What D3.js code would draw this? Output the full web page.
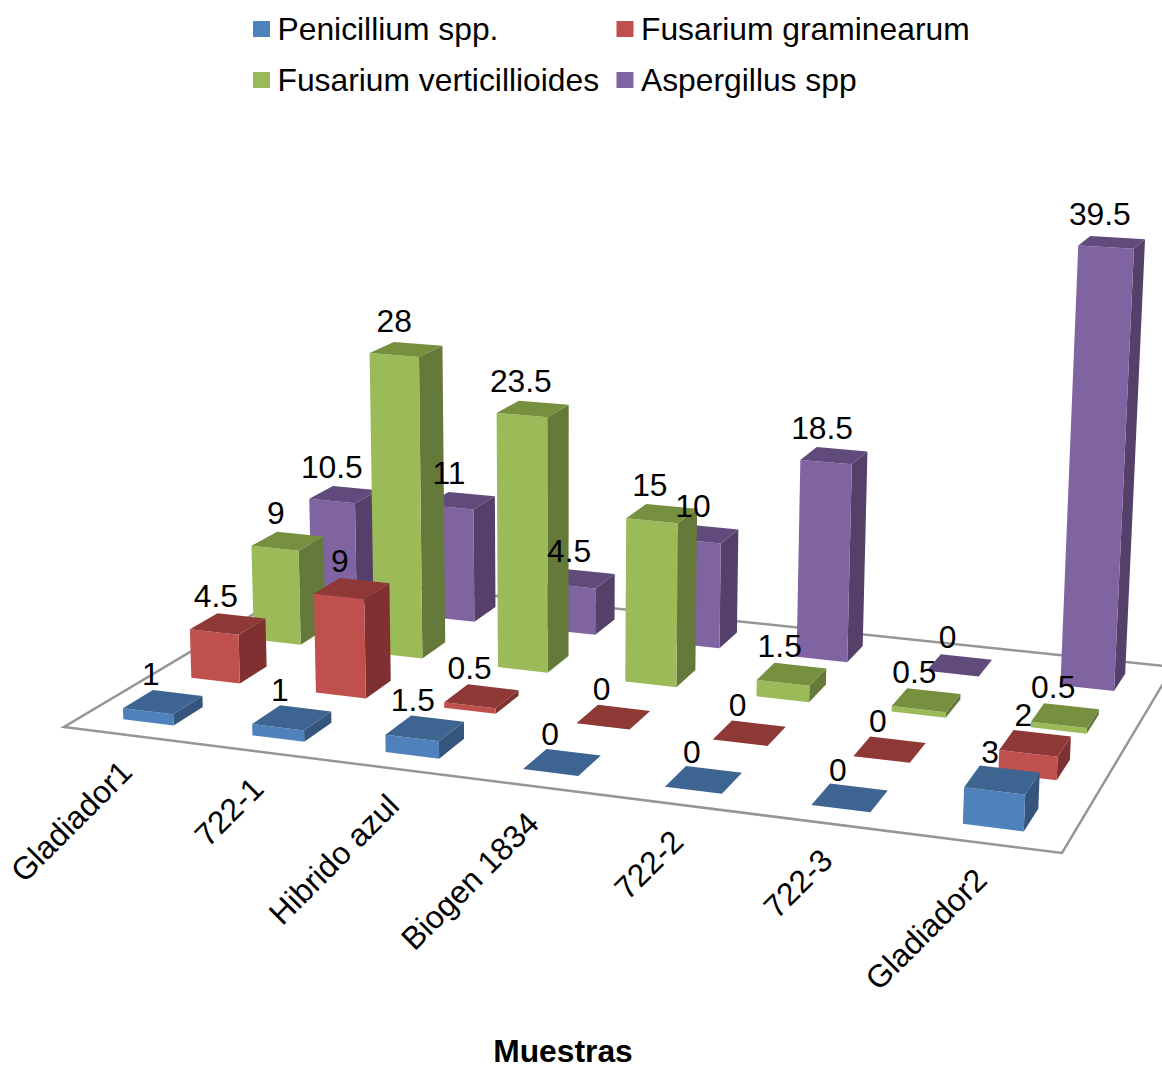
<!DOCTYPE html>
<html>
<head>
<meta charset="utf-8">
<script src="https://d3js.org/d3.v7.min.js"></script>
<style>
  body { margin: 0; background: #fff; }
  text { font-family: "Liberation Sans", Arial, sans-serif; fill: #000; }
</style>
</head>
<body>
<div id="chart"></div>
<script>
var categories = ["Gladiador1", "722-1", "Hibrido azul", "Biogen 1834", "722-2", "722-3", "Gladiador2"];
var seriesNames = ["Penicillium spp.", "Fusarium graminearum", "Fusarium verticillioides", "Aspergillus spp"];
var penicillium = [1, 1, 1.5, 0, 0, 0, 3];
var graminearum = [4.5, 9, 0.5, 0, 0, 0, 2];
var verticillioides = [9, 28, 23.5, 15, 1.5, 0.5, 0.5];
var aspergillus = [10.5, 11, 4.5, 10, 18.5, 0, 39.5];
var seriesValues = [penicillium, graminearum, verticillioides, aspergillus];

var frontColors = ["#4F81BD", "#C0504D", "#9BBB59", "#8064A2"];
var topColors = ["#3E6491", "#8E3936", "#76903F", "#614B7C"];
var sideColors = ["#35557C", "#7E3130", "#64793A", "#544068"];

var width = 1162;
var height = 1066;

var svg = d3.select("#chart")
  .append("svg")
  .attr("width", width)
  .attr("height", height)
  .style("display", "block");

// floor corners on screen, from the picture
var FL = [64, 727], FR = [1062, 853], BR = [1173, 667], BL = [316, 577];
// where the verticals meet (they widen going up)
var vanish = [561, 13000];

// square -> quad homography
var dx1 = FR[0] - BR[0], dx2 = BL[0] - BR[0], sx = FL[0] - FR[0] + BR[0] - BL[0];
var dy1 = FR[1] - BR[1], dy2 = BL[1] - BR[1], sy = FL[1] - FR[1] + BR[1] - BL[1];
var den = dx1 * dy2 - dx2 * dy1;
var g = (sx * dy2 - dx2 * sy) / den;
var h = (dx1 * sy - sx * dy1) / den;
var a = FR[0] - FL[0] + g * FR[0], b = BL[0] - FL[0] + h * BL[0];
var d = FR[1] - FL[1] + g * FR[1], e = BL[1] - FL[1] + h * BL[1];

function project(u, v, w) {
  var q = g * u + h * v + 1 + w;
  return [
    (a * u + b * v + FL[0] + w * vanish[0]) / q,
    (d * u + e * v + FL[1] + w * vanish[1]) / q
  ];
}

var uScale = d3.scaleBand().domain(categories).range([0, 1]).paddingInner(0.607).paddingOuter(0.3035);
var vScale = d3.scaleBand().domain(seriesNames).range([0, 1]).paddingInner(0.57).paddingOuter(0.285);
var wScale = d3.scaleLinear().domain([0, 39.5]).range([0, -0.0362]);

var line = d3.line();
function face(pts) { return line(pts) + "Z"; }

// floor
svg.append("path")
  .attr("d", face([FL, FR, BR, BL]))
  .attr("fill", "none")
  .attr("stroke", "#969696")
  .attr("stroke-width", 2.5);

// back row first, left to right inside a row
var bars = svg.append("g");
d3.range(seriesNames.length - 1, -1, -1).forEach(function(s) {
  categories.forEach(function(cat, i) {
    var value = seriesValues[s][i];
    var u0 = uScale(cat), u1 = u0 + uScale.bandwidth();
    var v0 = vScale(seriesNames[s]), v1 = v0 + vScale.bandwidth();
    var w = wScale(value);
    var group = bars.append("g");
    group.append("path")
      .attr("d", face([project(u1, v0, 0), project(u1, v1, 0), project(u1, v1, w), project(u1, v0, w)]))
      .attr("fill", sideColors[s]);
    group.append("path")
      .attr("d", face([project(u0, v0, 0), project(u1, v0, 0), project(u1, v0, w), project(u0, v0, w)]))
      .attr("fill", frontColors[s]);
    group.append("path")
      .attr("d", face([project(u0, v0, w), project(u1, v0, w), project(u1, v1, w), project(u0, v1, w)]))
      .attr("fill", topColors[s]);
  });
});

// value labels go over all the bars
d3.range(seriesNames.length - 1, -1, -1).forEach(function(s) {
  categories.forEach(function(cat, i) {
    var value = seriesValues[s][i];
    var c = project(uScale(cat) + uScale.bandwidth() / 2, vScale(seriesNames[s]) + vScale.bandwidth() / 2, wScale(value));
    svg.append("text")
      .attr("x", c[0] - 12)
      .attr("y", c[1] - 17)
      .attr("text-anchor", "middle")
      .style("font-size", "31.8px")
      .text(value);
  });
});

// category labels
categories.forEach(function(cat) {
  var c = project(uScale(cat) + uScale.bandwidth() / 2, 0, 0);
  svg.append("text")
    .attr("transform", "translate(" + (c[0] + 6) + "," + (c[1] + 39) + ") rotate(-45)")
    .attr("text-anchor", "end")
    .style("font-size", "31.8px")
    .text(cat);
});

svg.append("text")
  .attr("x", 563)
  .attr("y", 1062)
  .attr("text-anchor", "middle")
  .style("font-size", "31.8px")
  .style("font-weight", "bold")
  .text("Muestras");

// legend, two rows of two
var legendX = d3.scaleOrdinal().domain([0, 1]).range([253, 616.5]);
var legendY = d3.scaleOrdinal().domain([0, 1]).range([21, 72]);
seriesNames.forEach(function(name, i) {
  var lx = legendX(i % 2), ly = legendY(Math.floor(i / 2));
  svg.append("rect")
    .attr("x", lx)
    .attr("y", ly)
    .attr("width", 17)
    .attr("height", 16)
    .attr("fill", frontColors[i]);
  svg.append("text")
    .attr("x", lx + 24.5)
    .attr("y", ly + 18.5)
    .style("font-size", "31.8px")
    .text(name);
});
</script>
</body>
</html>
